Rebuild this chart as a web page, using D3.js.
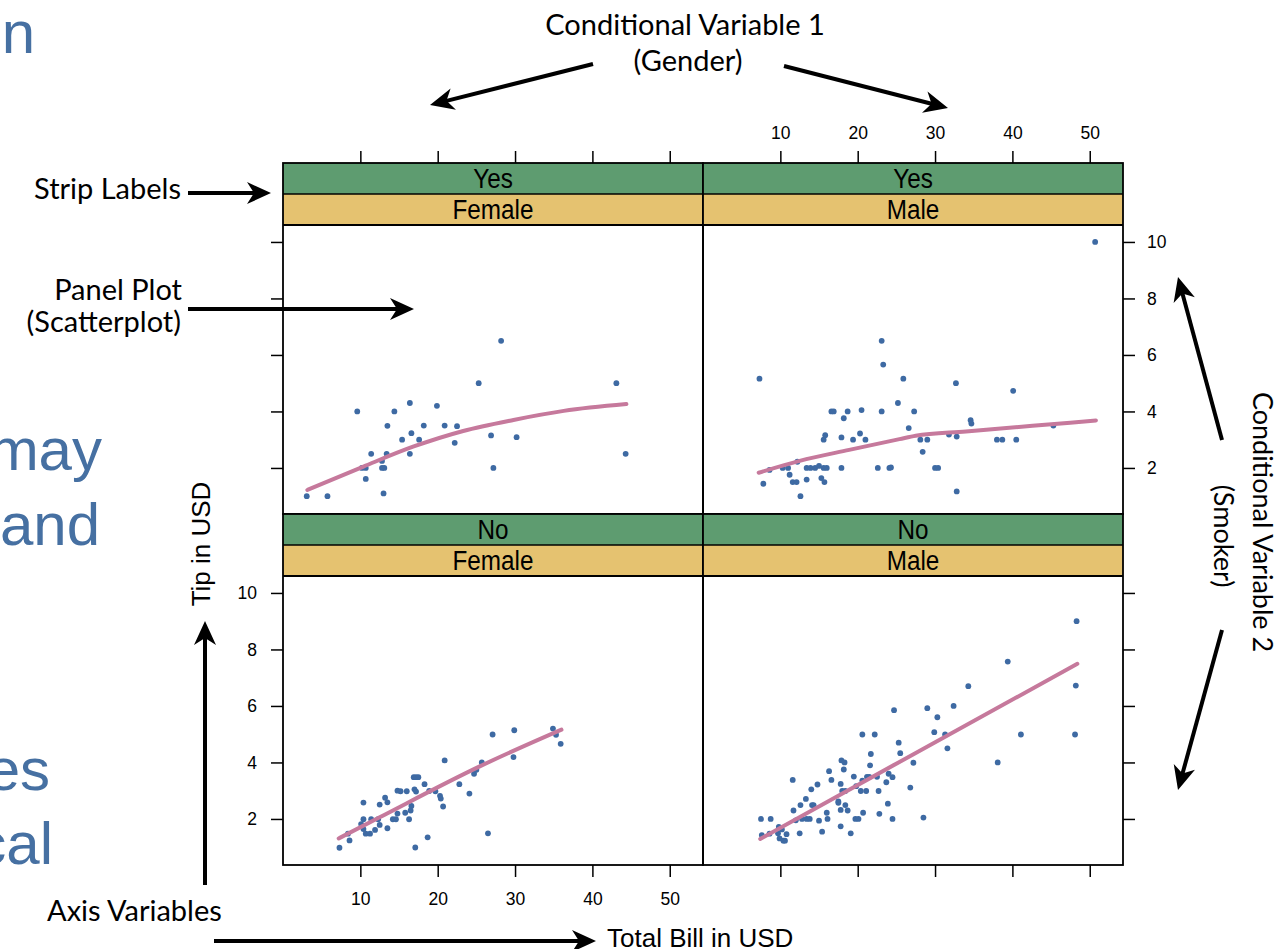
<!DOCTYPE html>
<html>
<head>
<meta charset="utf-8">
<script src="https://cdn.jsdelivr.net/npm/d3@7"></script>
<style>
  body { margin: 0; background: #fff; }
  svg { display: block; }
  .tick text { font-family: "Liberation Sans", Arial, sans-serif; font-size: 17.5px; fill: #000; }
  .tick line { stroke: #000; stroke-width: 1.5; }
  .note { font-family: Lato, "Open Sans", sans-serif; font-size: 29px; fill: #000; }
  .slide { font-family: "Liberation Sans", Arial, sans-serif; font-size: 60px; fill: #4670a2; }
  .axis-label { font-family: "Liberation Sans", Arial, sans-serif; font-size: 26px; fill: #000; }
  .strip-text { font-family: "Liberation Sans", Arial, sans-serif; font-size: 27px; fill: #000; }
</style>
</head>
<body>
<script>
// tips data: [total bill, tip]
const smokerFemale = [
  [3.07,1.0],[5.75,1.0],[9.6,4.0],[10.2,2.0],[10.7,2.0],[10.7,1.61],[11.4,2.5],[13.0,1.1],
  [12.8,2.25],[12.8,2.0],[13.1,2.0],[13.4,2.5],[13.5,3.49],[14.4,4.0],[15.4,3.0],[16.4,4.3],
  [16.6,3.23],[16.4,2.5],[17.6,3.0],[18.2,3.5],[19.9,4.2],[20.9,3.5],[22.2,2.89],[22.5,3.48],
  [25.3,5.0],[26.9,3.15],[27.2,2.0],[28.2,6.5],[30.2,3.09],[43.1,5.0],[44.3,2.5]
];
const smokerMale = [
  [7.3,5.16],[7.8,1.44],[8.6,1.93],[10.3,2.0],[11.0,2.0],[11.2,1.76],[12.2,2.22],[11.6,1.5],
  [12.1,1.5],[12.6,1.0],[13.4,1.59],[13.4,2.0],[13.9,2.0],[14.5,2.0],[15.0,2.07],[15.3,1.64],
  [15.7,1.5],[15.6,2.0],[16.0,2.0],[15.6,3.0],[15.8,3.16],[16.6,4.0],[16.9,4.0],[17.9,3.08],
  [17.9,2.0],[18.2,3.76],[18.7,4.0],[19.4,3.0],[20.3,3.22],[20.5,4.05],[21.0,3.0],[22.6,2.0],
  [23.1,4.0],[23.1,6.5],[23.3,5.66],[24.1,2.0],[24.3,2.02],[25.2,4.3],[25.9,5.16],[26.6,3.41],
  [27.3,4.0],[28.1,3.0],[28.4,2.57],[29.0,3.0],[30.0,2.0],[30.4,2.0],[31.8,3.18],[32.7,5.0],
  [32.8,3.11],[32.8,1.17],[34.6,3.69],[34.7,3.57],[38.0,3.0],[38.7,3.0],[40.1,4.73],[40.5,3.0],
  [45.3,3.5],[50.7,10.0]
];
const nonSmokerFemale = [
  [7.3,0.98],[8.6,1.24],[8.4,1.48],[10.4,2.58],[10.4,1.99],[10.1,1.82],[10.4,1.64],[10.7,1.48],
  [11.25,1.48],[11.4,1.99],[11.9,1.61],[12.3,1.99],[12.5,1.79],[12.5,2.51],[13.2,2.75],[13.5,2.59],
  [13.5,1.67],[14.2,1.99],[14.6,1.99],[14.8,2.19],[14.8,3.0],[15.2,2.98],[15.8,2.22],[16.0,2.98],
  [16.3,1.99],[16.5,2.3],[16.6,2.46],[16.9,3.48],[17.2,3.48],[17.5,3.48],[17.0,3.05],[17.2,2.97],
  [17.1,0.99],[18.3,3.23],[18.7,1.35],[18.9,2.99],[19.7,2.98],[20.3,2.82],[20.4,2.72],[20.7,2.44],
  [20.9,4.07],[22.8,3.23],[24.1,2.9],[24.7,3.6],[25.0,3.74],[25.7,4.0],[26.5,1.49],[27.1,4.99],
  [29.8,4.19],[29.9,5.14],[34.9,5.2],[35.3,4.98],[35.9,4.66]
];
const nonSmokerMale = [
  [7.5,2.0],[7.6,1.43],[8.75,2.0],[8.6,1.48],[9.8,1.72],[9.7,1.49],[9.9,1.31],[10.2,1.63],
  [10.4,1.23],[10.6,1.23],[10.8,1.46],[11.6,3.38],[11.7,2.3],[12.0,1.95],[12.5,1.49],[12.6,2.49],
  [12.8,2.0],[13.3,2.71],[13.4,2.0],[13.8,2.0],[14.0,3.05],[14.1,2.49],[14.3,2.49],[14.8,3.22],
  [15.0,1.94],[15.4,1.55],[16.0,2.22],[16.1,2.0],[16.3,3.69],[16.6,3.38],[17.5,2.57],[17.5,2.62],
  [17.8,3.24],[17.8,2.32],[17.8,1.74],[17.9,4.07],[18.3,4.0],[18.2,3.75],[18.0,2.99],[18.4,2.99],
  [18.4,2.49],[18.7,2.3],[19.1,1.49],[19.5,3.5],[19.7,2.0],[20.1,2.0],[19.8,3.16],[20.4,2.99],
  [20.6,3.36],[20.7,2.22],[20.6,4.99],[21.1,2.99],[21.2,3.49],[21.5,3.49],[21.6,3.9],[21.7,4.3],
  [22.2,4.99],[22.5,3.49],[22.7,2.99],[22.8,2.18],[23.7,3.3],[23.9,2.54],[24.0,3.6],[24.5,3.48],
  [24.5,2.0],[24.7,5.85],[25.3,4.7],[25.5,4.33],[26.8,3.11],[27.2,3.99],[28.5,2.05],[29.0,5.92],
  [29.9,5.07],[30.3,5.6],[31.3,4.99],[31.6,4.5],[32.4,6.0],[34.3,6.7],[38.1,4.0],[39.4,7.57],
  [41.1,4.99],[48.1,4.99],[48.2,6.72],[48.3,9.0]
];

// smoother curves
const fitSmokerFemale = [[3.15,1.22],[10.4,2.05],[16.9,2.76],[23.3,3.31],[29.8,3.7],[36.3,4.02],[44.4,4.26]];
const fitSmokerMale = [[7.2,1.83],[12.5,2.25],[18.9,2.64],[25.4,3.02],[27.5,3.14],[34.0,3.29],[42.6,3.49],[50.8,3.68]];
const fitNonSmokerFemale = [[7.2,1.31],[12.5,2.06],[25.5,3.87],[36.0,5.16]];
const fitNonSmokerMale = [[7.4,1.29],[25.4,4.02],[48.4,7.49]];

const smokerLevels = ['Yes', 'No'];
const sexLevels = ['Female', 'Male'];
const billTicks = [10, 20, 30, 40, 50];
const tipTicks = [2, 4, 6, 8, 10];

const W = 1285, H = 949;
const margin = {left: 283, top: 163};
const panelW = 420, panelH = 289, stripH = 31;
const rowH = panelH + 2 * stripH;

const svg = d3.select('body').append('svg')
    .attr('width', W)
    .attr('height', H);

// scales shared by every panel
const x = d3.scaleLinear().domain([0, 54.3]).range([0, panelW]);
const y = d3.scaleLinear().domain([0.37, 10.6]).range([panelH, 0]);

const panels = [
  {row: 0, col: 0, pts: smokerFemale, fit: fitSmokerFemale},
  {row: 0, col: 1, pts: smokerMale, fit: fitSmokerMale},
  {row: 1, col: 0, pts: nonSmokerFemale, fit: fitNonSmokerFemale},
  {row: 1, col: 1, pts: nonSmokerMale, fit: fitNonSmokerMale}
];

const line = d3.line()
    .x(d => x(d[0]))
    .y(d => y(d[1]))
    .curve(d3.curveMonotoneX);

panels.forEach(p => {
    let gx = margin.left + p.col * panelW;
    let gy = margin.top + p.row * rowH;
    let g = svg.append('g').attr('transform', 'translate(' + gx + ',' + gy + ')');

    // strips: smoker on top, sex below
    g.append('rect')
        .attr('width', panelW).attr('height', stripH)
        .style('fill', '#5e9c70');
    g.append('rect')
        .attr('y', stripH)
        .attr('width', panelW).attr('height', stripH)
        .style('fill', '#e5c270');
    [smokerLevels[p.row], sexLevels[p.col]].forEach((t, i) => {
        g.append('text')
            .attr('class', 'strip-text')
            .attr('text-anchor', 'middle')
            .attr('transform', 'translate(' + (panelW / 2) + ',' + (i * stripH + 25) + ') scale(0.9,1)')
            .text(t);
    });
    g.append('line')
        .attr('x1', 0).attr('x2', panelW)
        .attr('y1', stripH).attr('y2', stripH)
        .style('stroke', '#000').style('stroke-width', 1.5);

    let body = g.append('g').attr('transform', 'translate(0,' + (2 * stripH) + ')');

    body.selectAll('circle')
        .data(p.pts)
        .enter().append('circle')
        .attr('cx', d => x(d[0]))
        .attr('cy', d => y(d[1]))
        .attr('r', 2.9)
        .style('fill', '#3e6aa3');

    body.append('path')
        .datum(p.fit)
        .attr('d', line)
        .style('fill', 'none')
        .style('stroke', '#c6799c')
        .style('stroke-width', 4)
        .style('stroke-linecap', 'round');

    // borders
    g.append('rect')
        .attr('width', panelW).attr('height', rowH)
        .style('fill', 'none')
        .style('stroke', '#000').style('stroke-width', 1.8);
    body.append('line')
        .attr('x1', 0).attr('x2', panelW)
        .style('stroke', '#000').style('stroke-width', 1.8);

    // alternating axes, lattice style
    let noLabel = () => '';
    if (p.row === 0) {
        let ax = d3.axisTop(x).tickValues(billTicks).tickSize(12).tickPadding(12);
        if (p.col === 0) ax.tickFormat(noLabel);
        g.append('g').call(ax).call(a => a.select('.domain').remove());
    } else {
        let ax = d3.axisBottom(x).tickValues(billTicks).tickSize(12).tickPadding(16);
        if (p.col === 1) ax.tickFormat(noLabel);
        body.append('g').attr('transform', 'translate(0,' + panelH + ')')
            .call(ax).call(a => a.select('.domain').remove());
    }
    if (p.col === 0) {
        let ay = d3.axisLeft(y).tickValues(tipTicks).tickSize(12).tickPadding(14);
        if (p.row === 0) ay.tickFormat(noLabel);
        body.append('g').call(ay).call(a => a.select('.domain').remove());
    } else {
        let ay = d3.axisRight(y).tickValues(tipTicks).tickSize(12).tickPadding(12);
        if (p.row === 1) ay.tickFormat(noLabel);
        body.append('g').attr('transform', 'translate(' + panelW + ',0)')
            .call(ay).call(a => a.select('.domain').remove());
    }
});

// slide text cut off on the left
[['n', 35, 53], ['may', 102, 470], ['and', 100, 545], ['es', 50, 790], ['cal', 53, 864]]
    .forEach(t => {
        svg.append('text').attr('class', 'slide')
            .attr('x', t[1]).attr('y', t[2])
            .attr('text-anchor', 'end')
            .text(t[0]);
    });

// annotation arrows
function arrow(x1, y1, x2, y2) {
    let ang = Math.atan2(y2 - y1, x2 - x1);
    let back = 16;
    svg.append('line')
        .attr('x1', x1).attr('y1', y1)
        .attr('x2', x2 - back * Math.cos(ang)).attr('y2', y2 - back * Math.sin(ang))
        .style('stroke', '#000').style('stroke-width', 4);
    svg.append('path')
        .attr('d', 'M0,0L-24,-11L-17,0L-24,11Z')
        .attr('transform', 'translate(' + x2 + ',' + y2 + ') rotate(' + (ang * 180 / Math.PI) + ')')
        .style('fill', '#000');
}
arrow(593, 64, 430, 105);
arrow(784, 66, 948, 108);
arrow(188, 193, 271, 193);
arrow(188, 309, 414, 309);
arrow(1222, 440, 1178, 277);
arrow(1222, 630, 1178, 790);
arrow(205, 885, 205, 621);
arrow(214, 941, 596, 941);

function note(txt, xx, yy, anchor, rot, size) {
    let t = svg.append('text').attr('class', 'note')
        .attr('text-anchor', anchor)
        .attr('transform', 'translate(' + xx + ',' + yy + ')' + (rot ? ' rotate(' + rot + ')' : ''))
        .text(txt);
    if (size) t.style('font-size', size + 'px');
    return t;
}
note('Conditional Variable 1', 685, 35, 'middle');
note('(Gender)', 688, 71, 'middle');
note('Strip Labels', 181, 199, 'end');
note('Panel Plot', 182, 300, 'end');
note('(Scatterplot)', 181, 332, 'end');
note('Axis Variables', 47, 921, 'start');
note('Conditional Variable 2', 1253, 522, 'middle', 90, 27);
note('(Smoker)', 1214, 536, 'middle', 90, 27);

// axis titles
svg.append('text').attr('class', 'axis-label')
    .attr('x', 607).attr('y', 947)
    .text('Total Bill in USD');
svg.append('text').attr('class', 'axis-label')
    .attr('text-anchor', 'middle')
    .attr('transform', 'translate(210,544) rotate(-90)')
    .text('Tip in USD');
</script>
</body>
</html>
